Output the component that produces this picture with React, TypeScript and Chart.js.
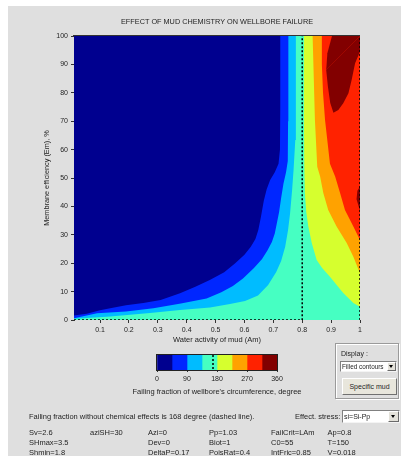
import React, { useEffect, useRef } from 'react';
import { Chart, registerables } from 'chart.js';

Chart.register(...registerables);

const FONT = '"Liberation Sans", Arial, Helvetica, sans-serif';
const TEXT = '#1e1e1e';
const BG = '#DFDFDF';

// ---- texts ----
const chartTitle = 'EFFECT OF MUD CHEMISTRY ON WELLBORE FAILURE';
const xAxisTitle = 'Water activity of mud (Am)';
const yAxisTitle = 'Membrane efficiency (Em), %';
const colorbarTitle = "Failing fraction of wellbore's circumference, degree";
const noteText = 'Failing fraction without chemical effects is 168 degree (dashed line).';

// ---- axes ----
const xRange = [0.01, 1];
const yRange = [0, 100];
const xTickValues = [0.1, 0.2, 0.3, 0.4, 0.5, 0.6, 0.7, 0.8, 0.9, 1];
const xTickLabels = ['0.1', '0.2', '0.3', '0.4', '0.5', '0.6', '0.7', '0.8', '0.9', '1'];
const yTickStep = 10;

// ---- contour levels (degrees) and colours ----
const levelValues = [0, 45, 90, 135, 180, 225, 270, 315, 360];
const levelColors = ['#00008F', '#0026FF', '#00BCFF', '#46FFC2', '#D6FF2E', '#FFA200', '#FF2200', '#820000'];
const colorbarTickStep = 90;
const noChemValue = 168;

// ---- contour lines [Am, Em] ----
const contour45 = [[0.01, 1.6], [0.054, 2.2], [0.1, 3.4], [0.14, 4.2], [0.19, 5.2], [0.25, 6.0], [0.31, 7.0], [0.377, 9.4], [0.43, 11.7], [0.48, 14.1], [0.53, 16.8], [0.568, 20.0], [0.6, 23.0], [0.622, 25.8], [0.638, 28.5], [0.648, 31.7], [0.657, 36.3], [0.667, 42.0], [0.677, 46.0], [0.689, 49.3], [0.705, 52.0], [0.718, 55.0], [0.723, 60], [0.724, 75], [0.724, 100]];
const contour90 = [[0.01, 0.6], [0.09, 2.4], [0.19, 3.0], [0.285, 4.1], [0.38, 5.8], [0.469, 7.6], [0.52, 9.8], [0.56, 12.0], [0.595, 14.6], [0.633, 18.3], [0.661, 21.5], [0.68, 24.6], [0.695, 27.5], [0.705, 30.5], [0.712, 34.0], [0.72, 38.0], [0.727, 43.0], [0.735, 48.0], [0.744, 52.0], [0.75, 56], [0.751, 70], [0.752, 100]];
const contour135 = [[0.01, 0.4], [0.135, 1.2], [0.273, 2.5], [0.377, 3.5], [0.481, 4.4], [0.55, 5.6], [0.602, 6.7], [0.647, 8.6], [0.682, 12.3], [0.71, 16.9], [0.727, 20.8], [0.741, 25.8], [0.751, 31.7], [0.758, 37.6], [0.765, 45.8], [0.77, 52.8], [0.776, 63.4], [0.778, 100]];
const contour180 = [[0.806, 100], [0.806, 70], [0.807, 55], [0.809, 45], [0.814, 38], [0.821, 33], [0.833, 27.1], [0.85, 21.1], [0.869, 18.3], [0.896, 15.2], [0.92, 12.2], [0.942, 9.5], [0.977, 6.0], [1, 4.7]];
const contour225 = [[0.836, 100], [0.844, 70.4], [0.852, 54], [0.862, 50.5], [0.873, 44.7], [0.89, 38.7], [0.919, 32.9], [0.954, 27.1], [0.977, 22.3], [1, 16.5]];
const contour270 = [[0.868, 100], [0.868, 90], [0.872, 80], [0.879, 70.4], [0.896, 55], [0.914, 50.5], [0.931, 44.7], [0.948, 38.7], [0.977, 32.9], [1, 28.2]];
const contour315TopLower = [[0.883, 88.0], [0.889, 82.1], [0.897, 76.4], [0.908, 73.0], [0.925, 73.9], [0.942, 76.3], [0.96, 79.8], [0.971, 84.5], [0.983, 90.4], [1, 94.5], [1, 100]];
const contour315TopUpper = [[0.883, 88.0], [0.887, 93.9], [0.903, 100], [1, 100]];
const contour315Edge = [[0.988, 42.5], [0.991, 45.5], [1, 47], [1, 38.5]];

// dashed line: failing fraction without chemical effects
const noChemLine = [[0.01, 0], [0.8, 0], [0.8, 100]];
const noChemEdge = [[1, 0], [1, 100]];

// ---- parameter table ----
const paramRow1 = ['Sv=2.6', 'aziSH=30', 'Azi=0', 'Pp=1.03', 'FailCrit=LAm', 'Ap=0.8'];
const paramRow2 = ['SHmax=3.5', '', 'Dev=0', 'Biot=1', 'C0=55', 'T=150'];
const paramRow3 = ['Shmin=1.8', '', 'DeltaP=0.17', 'PoisRat=0.4', 'IntFric=0.85', 'V=0.018'];

const toXY = (pts: number[][]) => pts.map(([x, y]) => ({ x, y }));

function buildDatasets() {
  const [x0, x1] = xRange;
  const [y0, y1] = yRange;
  const layers: { level: number; pts: number[][] }[] = [
    { level: 0, pts: [[x0, y0], [x0, y1], [x1, y1], [x1, y0]] },
    { level: 1, pts: [[x0, y0], ...contour45, [x1, y1], [x1, y0]] },
    { level: 2, pts: [[x0, y0], ...contour90, [x1, y1], [x1, y0]] },
    { level: 3, pts: [[x0, y0], ...contour135, [x1, y1], [x1, y0]] },
    { level: 4, pts: [...contour180, [x1, y1]] },
    { level: 5, pts: [...contour225, [x1, y1]] },
    { level: 6, pts: [...contour270, [x1, y1]] },
    { level: 7, pts: contour315TopLower },
    { level: 7, pts: contour315TopUpper },
    { level: 7, pts: contour315Edge },
  ];
  const dashed = [noChemLine, noChemEdge].map((pts) => ({
    data: toXY(pts),
    borderColor: '#000',
    borderWidth: 1.5,
    borderDash: [2, 2],
    pointRadius: 0,
    fill: false,
  }));
  const fills = layers
    .slice()
    .reverse()
    .map((l) => ({
      data: toXY(l.pts),
      backgroundColor: levelColors[l.level],
      borderColor: levelColors[l.level],
      borderWidth: 0,
      pointRadius: 0,
      fill: 'shape',
    }));
  return [...dashed, ...fills];
}

const tickFont = { family: FONT, size: 7 };
const labelFont = { family: FONT, size: 7.5 };

function Dropdown({ left, top, width, height, text, size }: { left: number; top: number; width: number; height: number; text: string; size: number }) {
  return (
    <div
      style={{
        position: 'absolute', left, top, width, height, boxSizing: 'border-box', background: '#fff',
        borderTop: '1px solid #808080', borderLeft: '1px solid #808080', borderRight: '1px solid #f4f4f4', borderBottom: '1px solid #f4f4f4',
        fontSize: size, lineHeight: `${height - 2}px`, paddingLeft: 1, whiteSpace: 'nowrap', overflow: 'hidden', color: TEXT,
      }}
    >
      {text}
      <div
        style={{
          position: 'absolute', right: 0, top: 0, width: height - 2, height: height - 2, boxSizing: 'border-box',
          background: '#E4E2DA', borderTop: '1px solid #fff', borderLeft: '1px solid #fff', borderRight: '1px solid #6a6a6a', borderBottom: '1px solid #6a6a6a',
        }}
      >
        <div style={{ position: 'absolute', left: '50%', top: '50%', marginLeft: -2.5, marginTop: -1.5, width: 0, height: 0, borderLeft: '2.5px solid transparent', borderRight: '2.5px solid transparent', borderTop: '3px solid #000' }} />
      </div>
    </div>
  );
}

export default function App() {
  const mainRef = useRef<HTMLCanvasElement>(null);
  const barRef = useRef<HTMLCanvasElement>(null);

  useEffect(() => {
    const frameTop = {
      id: 'frameTop',
      afterDatasetsDraw(chart: any) {
        const { ctx, chartArea } = chart;
        ctx.save();
        ctx.strokeStyle = '#333';
        ctx.lineWidth = 1;
        ctx.beginPath();
        ctx.moveTo(chartArea.left - 1, chartArea.top - 0.5);
        ctx.lineTo(chartArea.right, chartArea.top - 0.5);
        ctx.stroke();
        ctx.restore();
      },
    };

    const main = new Chart(mainRef.current as HTMLCanvasElement, {
      type: 'line',
      data: { datasets: buildDatasets() as any },
      options: {
        animation: false,
        responsive: false,
        events: [],
        layout: { padding: { left: 30, top: 0, right: 18, bottom: 0 } },
        plugins: {
          legend: { display: false },
          tooltip: { enabled: false },
          title: {
            display: true,
            text: chartTitle,
            fullSize: false,
            color: TEXT,
            font: { family: FONT, size: 7.3, weight: 'normal' },
            padding: { top: 12, bottom: 9.24 },
          },
        },
        scales: {
          x: {
            type: 'linear',
            min: xRange[0],
            max: xRange[1],
            afterBuildTicks: (scale: any) => {
              scale.ticks = xTickValues.map((v) => ({ value: v }));
            },
            afterFit: (scale: any) => {
              scale.height = 31;
            },
            ticks: {
              autoSkip: false,
              maxRotation: 0,
              padding: 3,
              color: TEXT,
              font: tickFont,
              callback: (_v: any, i: number) => xTickLabels[i],
            },
            grid: { drawOnChartArea: false, tickLength: 3, color: '#333' },
            border: { display: false },
            title: { display: true, text: xAxisTitle, color: TEXT, font: labelFont, padding: { top: 0, bottom: 6.5 } },
          },
          y: {
            type: 'linear',
            min: yRange[0],
            max: yRange[1],
            afterFit: (scale: any) => {
              scale.width = 36;
            },
            ticks: { stepSize: yTickStep, padding: 3, color: TEXT, font: tickFont },
            grid: { drawOnChartArea: false, tickLength: 3, color: '#333' },
            border: { display: true, color: '#333' },
            title: { display: true, text: yAxisTitle, color: TEXT, font: { family: FONT, size: 7.3 }, padding: { top: 4.6, bottom: 0 } },
          },
        },
      } as any,
      plugins: [frameTop],
    });

    const cbFrame = {
      id: 'cbFrame',
      afterDatasetsDraw(chart: any) {
        const { ctx, chartArea } = chart;
        const xs = chart.scales.x;
        const px = xs.getPixelForValue(noChemValue);
        ctx.save();
        ctx.strokeStyle = '#000';
        ctx.lineWidth = 1.5;
        ctx.setLineDash([2, 2]);
        ctx.beginPath();
        ctx.moveTo(px, chartArea.top);
        ctx.lineTo(px, chartArea.bottom);
        ctx.stroke();
        ctx.setLineDash([]);
        ctx.lineWidth = 1;
        ctx.strokeStyle = '#222';
        ctx.strokeRect(chartArea.left - 0.5, chartArea.top - 0.5, chartArea.right - chartArea.left + 1, chartArea.bottom - chartArea.top + 1);
        ctx.restore();
      },
    };

    const cbDatasets = levelColors.map((c, i) => ({
      data: [[levelValues[i], levelValues[i + 1]]],
      backgroundColor: c,
      borderWidth: 0,
      barPercentage: 1,
      categoryPercentage: 1,
      grouped: false,
    }));

    const bar = new Chart(barRef.current as HTMLCanvasElement, {
      type: 'bar',
      data: { labels: ['cb'], datasets: cbDatasets as any },
      options: {
        indexAxis: 'y',
        animation: false,
        responsive: false,
        events: [],
        layout: { padding: { left: 49, right: 51, top: 4, bottom: 0 } },
        plugins: { legend: { display: false }, tooltip: { enabled: false } },
        scales: {
          x: {
            type: 'linear',
            min: levelValues[0],
            max: levelValues[levelValues.length - 1],
            afterFit: (scale: any) => {
              scale.height = 19;
            },
            ticks: { stepSize: colorbarTickStep, padding: 3, color: TEXT, font: tickFont, maxRotation: 0 },
            grid: { drawOnChartArea: false, tickLength: 2, color: '#333' },
            border: { display: false },
          },
          y: { display: false },
        },
      } as any,
      plugins: [cbFrame],
    });

    return () => {
      main.destroy();
      bar.destroy();
    };
  }, []);

  const colX = [21, 82, 140, 201, 263, 319.5];
  const rowY = [426.5, 436.5, 446.5];
  const rows = [paramRow1, paramRow2, paramRow3];

  return (
    <div
      style={{
        position: 'fixed', left: 8, top: 6, width: 393, height: 450, background: BG, overflow: 'hidden',
        fontFamily: FONT, color: TEXT, fontSize: 7.5,
      }}
    >
      <canvas ref={mainRef} width={370} height={345} style={{ position: 'absolute', left: 0, top: 0, width: 370, height: 345 }} />
      <canvas ref={barRef} width={220} height={38} style={{ position: 'absolute', left: 100, top: 345, width: 220, height: 38 }} />
      <div style={{ position: 'absolute', left: 59, width: 300, top: 381, height: 10, lineHeight: '10px', textAlign: 'center', whiteSpace: 'nowrap' }}>
        {colorbarTitle}
      </div>

      {/* Display group box */}
      <div
        style={{
          position: 'absolute', left: 327, top: 337, width: 64, height: 56, boxSizing: 'border-box',
          border: '1px solid #9a9a9a', boxShadow: 'inset 1px 1px 0 #fff, 1px 1px 0 #fff',
        }}
      />
      <div style={{ position: 'absolute', left: 333, top: 343, height: 10, lineHeight: '10px', fontSize: 7 }}>Display :</div>
      <Dropdown left={332} top={355} width={57} height={11} text="Filled contours" size={6.4} />
      <div
        style={{
          position: 'absolute', left: 334, top: 372, width: 55, height: 17, boxSizing: 'border-box', background: '#E8E6DC',
          borderTop: '1px solid #fff', borderLeft: '1px solid #fff', borderRight: '1px solid #707070', borderBottom: '1px solid #707070',
          fontSize: 7, lineHeight: '15px', textAlign: 'center', color: TEXT,
        }}
      >
        Specific mud
      </div>

      {/* note and effective stress */}
      <div style={{ position: 'absolute', left: 21, top: 406, height: 10, lineHeight: '10px', whiteSpace: 'nowrap' }}>{noteText}</div>
      <div style={{ position: 'absolute', left: 287, top: 406, height: 10, lineHeight: '10px', whiteSpace: 'nowrap' }}>Effect. stress:</div>
      <Dropdown left={334} top={404} width={58} height={13} text="si=Si-Pp" size={7} />

      {/* parameters */}
      {rows.map((row, r) =>
        row.map((t, c) =>
          t ? (
            <div
              key={`${r}-${c}`}
              style={{ position: 'absolute', left: colX[c], top: rowY[r] - 5, height: 10, lineHeight: '10px', whiteSpace: 'nowrap' }}
            >
              {t}
            </div>
          ) : null
        )
      )}
    </div>
  );
}
